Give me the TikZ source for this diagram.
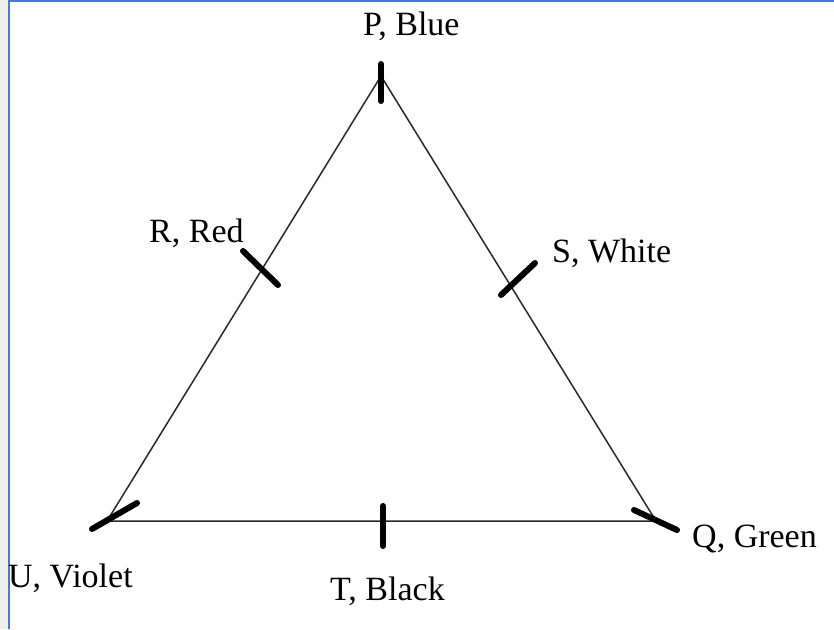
\documentclass[tikz,border=0pt]{standalone}
\usepackage{fontspec}
\setmainfont{Liberation Serif}
\definecolor{frameblue}{RGB}{74,120,208}
\definecolor{sidegray}{RGB}{238,238,236}
\definecolor{edgegray}{RGB}{40,40,40}
\begin{document}
\begin{tikzpicture}[x=1pt,y=-1pt,
  edge/.style={draw=edgegray,line width=1.5pt},
  tick/.style={draw=black,line width=6pt,line cap=round},
  lab/.style={inner sep=0pt,anchor=base west,text=black,font=\fontsize{34}{40}\selectfont}]
\useasboundingbox (0,0) rectangle (834,629);
% frame
\fill[sidegray] (0,0) rectangle (7.5,629);
\draw[frameblue,line width=2pt] (8.5,0) -- (8.5,629);
\draw[frameblue,line width=1.8pt] (7.5,0.9) -- (834,0.9);
% vertices
\coordinate (P) at (381,76);
\coordinate (U) at (107,521);
\coordinate (Q) at (656,521);
\draw[edge,line join=miter] (P) -- (U) -- (Q) -- cycle;
% tick end points
\coordinate (p1) at (381,64);  \coordinate (p2) at (381,101);
\coordinate (r1) at (243,251); \coordinate (r2) at (278,285);
\coordinate (s1) at (501,295); \coordinate (s2) at (535,263);
\coordinate (u1) at (92,529);  \coordinate (u2) at (137,503);
\coordinate (q1) at (634,510); \coordinate (q2) at (677,530);
\coordinate (t1) at (383,506); \coordinate (t2) at (383,546);
\draw[tick] (p1) -- (p2);
\draw[tick] (r1) -- (r2);
\draw[tick] (s1) -- (s2);
\draw[tick] (u1) -- (u2);
\draw[tick] (q1) -- (q2);
\draw[tick] (t1) -- (t2);
% labels
\node[lab] (lP) at (363,35) {P, Blue};
\node[lab] (lR) at (149,242) {R, Red};
\node[lab] (lS) at (552,262) {S, White};
\node[lab] (lQ) at (692,547) {Q, Green};
\node[lab] (lU) at (8,587) {U, Violet};
\node[lab] (lT) at (330,600) {T, Black};
\end{tikzpicture}
\end{document}
